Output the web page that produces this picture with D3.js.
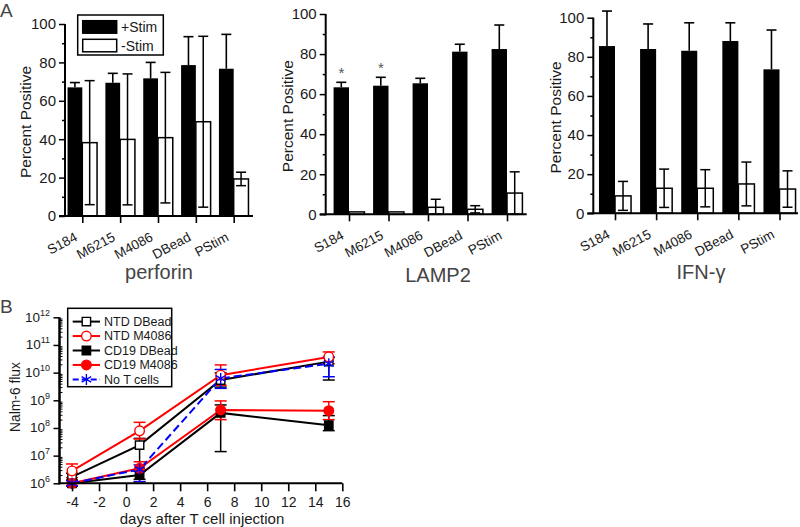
<!DOCTYPE html>
<html><head><meta charset="utf-8">
<script src="https://cdn.jsdelivr.net/npm/d3@7"></script>
<style>
body{margin:0;background:#fff}
svg{display:block}
text{font-family:"Liberation Sans",Arial,sans-serif}
</style>
</head><body>
<svg id="c" width="800" height="527"></svg>
<script>
// ---------- DATA ----------
const categories = ["S184", "M6215", "M4086", "DBead", "PStim"];
const seriesNames = ["+Stim", "-Stim"];
const panelTitles = ["perforin", "LAMP2", "IFN-\u03b3"];
const yTicksA = [0, 20, 40, 60, 80, 100];

const perforinStim = [67.0, 69.4, 71.7, 78.6, 76.7];
const perforinStimErr = [2.5, 4.9, 8.3, 14.8, 17.9];
const perforinNoStim = [38.2, 39.9, 40.8, 49.1, 19.3];
const perforinNoStimErr = [32.3, 34.1, 34.0, 44.5, 3.5];

const lampStim = [63.4, 64.2, 65.4, 81.2, 82.5];
const lampStimErr = [2.5, 4.2, 2.5, 3.7, 12.0];
const lampNoStim = [1.2, 1.2, 3.5, 2.5, 10.6];
const lampNoStimErr = [0, 0, 4.0, 1.8, 10.6];
const lampStars = ["S184", "M6215"];

const ifngStim = [85.5, 84.0, 83.1, 88.1, 73.6];
const ifngStimErr = [17.9, 12.8, 14.3, 9.3, 20.1];
const ifngNoStim = [8.9, 12.8, 12.8, 15.0, 12.4];
const ifngNoStimErr = [7.4, 9.8, 9.5, 11.2, 9.3];

const days = [-4, 1, 7, 15];
const xTicksB = [-4, -2, 0, 2, 4, 6, 8, 10, 12, 14, 16];
const yTicksB = [1e6, 1e7, 1e8, 1e9, 1e10, 1e11, 1e12];
const fluxNames = ["NTD DBead", "NTD M4086", "CD19 DBead", "CD19 M4086", "No T cells"];
const ntdDBead = [1.7e6, 2.4e7, 5.4e9, 2.5e10];
const ntdDBeadHi = [2.3e6, 4.2e7, 9.8e9, 3.5e10];
const ntdDBeadLo = [1.3e6, 3.0e6, 3.0e9, 5.4e9];
const ntdM4086 = [2.8e6, 7.9e7, 8.1e9, 3.7e10];
const ntdM4086Hi = [5.0e6, 1.6e8, 1.9e10, 5.6e10];
const ntdM4086Lo = [1.6e6, 4.0e7, 3.5e9, 2.1e10];
const cd19DBead = [1.0e6, 2.0e6, 3.5e8, 1.26e8];
const cd19DBeadHi = [1.26e6, 2.7e6, 6.8e8, 2.8e8];
const cd19DBeadLo = [8.0e5, 1.4e6, 1.4e7, 8.0e7];
const cd19M4086 = [1.0e6, 3.5e6, 4.5e8, 4.2e8];
const cd19M4086Hi = [1.26e6, 6.0e6, 9.5e8, 8.9e8];
const cd19M4086Lo = [8.0e5, 1.15e6, 2.0e8, 2.0e8];
const noTCells = [1.0e6, 3.2e6, 6.2e9, 2.1e10];
const noTCellsHi = [1.26e6, 4.6e6, 1.3e10, 3.7e10];
const noTCellsLo = [8.0e5, 1.15e6, 2.7e9, 7.1e9];

// ---------- DRAW ----------
const svg = d3.select("#c");
svg.append("rect").attr("width", 800).attr("height", 527).attr("fill", "#fff");
const TXT = "#1a1a1a", GRAY = "#444";

svg.append("text").attr("x", 0).attr("y", 17).attr("font-size", 19).attr("fill", GRAY).text("A");
svg.append("text").attr("x", 0).attr("y", 313).attr("font-size", 19).attr("fill", GRAY).text("B");

const panelsA = [
  {title: panelTitles[0], stim: perforinStim, stimErr: perforinStimErr, no: perforinNoStim, noErr: perforinNoStimErr, stars: [],
   L: 65, R: 253, t0: 82.3, t1: 233.7, y0: 216, y100: 24, ylabX: 31, titleX: 159, titleY: 279, legend: true},
  {title: panelTitles[1], stim: lampStim, stimErr: lampStimErr, no: lampNoStim, noErr: lampNoStimErr, stars: lampStars,
   L: 325.7, R: 526.7, t0: 349, t1: 507, y0: 214.3, y100: 14, ylabX: 293, titleX: 438, titleY: 282, legend: false},
  {title: panelTitles[2], stim: ifngStim, stimErr: ifngStimErr, no: ifngNoStim, noErr: ifngNoStimErr, stars: [],
   L: 593.3, R: 798, t0: 615, t1: 779.5, y0: 213.3, y100: 17.7, ylabX: 561, titleX: 701, titleY: 279, legend: false}
];

panelsA.forEach(p => {
  const g = svg.append("g");
  const x = d3.scalePoint().domain(categories).range([p.t0, p.t1]);
  const y = d3.scaleLinear().domain([0, 100]).range([p.y0, p.y100]);
  const bw = x.step() * 0.39;
  const cap = 5;

  categories.forEach((c, i) => {
    const cx = x(c);
    g.append("rect").attr("x", cx - bw).attr("y", y(p.stim[i])).attr("width", bw)
      .attr("height", y(0) - y(p.stim[i])).attr("fill", "#000");
    g.append("rect").attr("x", cx).attr("y", y(p.no[i])).attr("width", bw)
      .attr("height", y(0) - y(p.no[i])).attr("fill", "#fff").attr("stroke", "#000").attr("stroke-width", 1.5);
    const sx = cx - bw / 2, top = y(p.stim[i] + p.stimErr[i]);
    g.append("line").attr("x1", sx).attr("x2", sx).attr("y1", y(p.stim[i])).attr("y2", top).attr("stroke", "#000").attr("stroke-width", 1.6);
    g.append("line").attr("x1", sx - cap).attr("x2", sx + cap).attr("y1", top).attr("y2", top).attr("stroke", "#000").attr("stroke-width", 1.6);
    if (p.noErr[i] > 0) {
      const nx = cx + bw / 2, hi = y(p.no[i] + p.noErr[i]), lo = y(Math.max(0, p.no[i] - p.noErr[i]));
      g.append("line").attr("x1", nx).attr("x2", nx).attr("y1", lo).attr("y2", hi).attr("stroke", "#000").attr("stroke-width", 1.5);
      [hi, lo].forEach(yy => g.append("line").attr("x1", nx - cap).attr("x2", nx + cap).attr("y1", yy).attr("y2", yy).attr("stroke", "#000").attr("stroke-width", 1.5));
    }
    if (p.stars.includes(c)) {
      g.append("text").attr("x", sx).attr("y", top - 4).attr("text-anchor", "middle")
        .attr("font-size", 15).attr("fill", "#555").text("*");
    }
  });

  const ya = g.append("g").attr("transform", `translate(${p.L},0)`)
    .call(d3.axisLeft(y).tickValues(yTicksA).tickSize(6).tickPadding(3));
  ya.select(".domain").remove();
  ya.selectAll(".tick line").attr("stroke", "#000").attr("stroke-width", 1.5);
  ya.selectAll(".tick text").attr("font-size", 15).attr("fill", TXT).attr("font-family", "Liberation Sans, Arial, sans-serif");
  const ym = g.append("g").attr("transform", `translate(${p.L},0)`)
    .call(d3.axisLeft(y).tickValues([10, 30, 50, 70, 90]).tickSize(3).tickFormat(""));
  ym.select(".domain").remove();
  ym.selectAll(".tick line").attr("stroke", "#000").attr("stroke-width", 1.5);
  g.append("line").attr("x1", p.L).attr("x2", p.L).attr("y1", p.y0 + 1).attr("y2", p.y100).attr("stroke", "#000").attr("stroke-width", 2);

  const xa = g.append("g").attr("transform", `translate(0,${p.y0})`)
    .call(d3.axisBottom(x).tickSize(7).tickFormat(""));
  xa.select(".domain").remove();
  xa.selectAll(".tick line").attr("stroke", "#000").attr("stroke-width", 1.6);
  g.append("line").attr("x1", p.L - 6).attr("x2", p.R).attr("y1", p.y0).attr("y2", p.y0).attr("stroke", "#000").attr("stroke-width", 2);
  categories.forEach(c => {
    const tx = x(c) - 4, ty = p.y0 + 24;
    g.append("text").attr("x", tx).attr("y", ty).attr("text-anchor", "end")
      .attr("transform", `rotate(-28,${tx},${ty})`).attr("font-size", 13.5).attr("fill", TXT).text(c);
  });

  g.append("text").attr("transform", `translate(${p.ylabX},${(p.y0 + p.y100) / 2 + 2}) rotate(-90)`)
    .attr("text-anchor", "middle").attr("font-size", 15.5).attr("fill", TXT).text("Percent Positive");
  g.append("text").attr("x", p.titleX).attr("y", p.titleY).attr("text-anchor", "middle")
    .attr("font-size", 20).attr("fill", GRAY).text(p.title);

  if (p.legend) {
    const lg = g.append("g");
    lg.append("rect").attr("x", 77.7).attr("y", 15).attr("width", 85.6).attr("height", 40)
      .attr("fill", "#fff").attr("stroke", "#000").attr("stroke-width", 1.5);
    seriesNames.forEach((s, i) => {
      const yy = 20.7 + i * 18.6;
      lg.append("rect").attr("x", 82.7).attr("y", yy).attr("width", 34).attr("height", 12.5)
        .attr("fill", i === 0 ? "#000" : "#fff").attr("stroke", "#000").attr("stroke-width", 1.5);
      lg.append("text").attr("x", 121).attr("y", yy + 11.5).attr("font-size", 14).attr("fill", TXT).text(s);
    });
  }
});

// ---------- PANEL B ----------
const gB = svg.append("g");
const xB = d3.scaleLinear().domain([-5, 16]).range([58.5, 342.3]);
const yB = d3.scaleLog().domain([1e6, 1e12]).range([483.3, 317.3]);

const fluxSeries = [
  {name: fluxNames[0], v: ntdDBead, hi: ntdDBeadHi, lo: ntdDBeadLo, color: "#000", shape: "square", fill: "#fff", dash: null},
  {name: fluxNames[1], v: ntdM4086, hi: ntdM4086Hi, lo: ntdM4086Lo, color: "#f00", shape: "circle", fill: "#fff", dash: null},
  {name: fluxNames[2], v: cd19DBead, hi: cd19DBeadHi, lo: cd19DBeadLo, color: "#000", shape: "square", fill: "#000", dash: null},
  {name: fluxNames[3], v: cd19M4086, hi: cd19M4086Hi, lo: cd19M4086Lo, color: "#f00", shape: "circle", fill: "#f00", dash: null},
  {name: fluxNames[4], v: noTCells, hi: noTCellsHi, lo: noTCellsLo, color: "#00f", shape: "star", fill: "none", dash: "8,4"}
];

function marker(sel, s, cx, cy) {
  if (s.shape === "square") {
    sel.append("path").attr("d", d3.symbol().type(d3.symbolSquare).size(70)())
      .attr("transform", `translate(${cx},${cy})`).attr("fill", s.fill).attr("stroke", s.color).attr("stroke-width", 1.4);
  } else if (s.shape === "circle") {
    sel.append("path").attr("d", d3.symbol().type(d3.symbolCircle).size(72)())
      .attr("transform", `translate(${cx},${cy})`).attr("fill", s.fill).attr("stroke", s.color).attr("stroke-width", 1.4);
  } else {
    const r = 5.5, p = d3.path();
    [90, 30, -30].forEach(a => {
      const t = a * Math.PI / 180;
      p.moveTo(cx - r * Math.cos(t), cy - r * Math.sin(t));
      p.lineTo(cx + r * Math.cos(t), cy + r * Math.sin(t));
    });
    sel.append("path").attr("d", p.toString()).attr("fill", "none").attr("stroke", s.color).attr("stroke-width", 1.4);
  }
}

const line = d3.line().x(d => xB(d[0])).y(d => yB(d[1]));
fluxSeries.forEach(s => {
  const pts = days.map((d, i) => [d, s.v[i]]);
  gB.append("path").attr("d", line(pts)).attr("fill", "none").attr("stroke", s.color)
    .attr("stroke-width", 2).attr("stroke-dasharray", s.dash);
  days.forEach((d, i) => {
    const cx = xB(d), h = yB(s.hi[i]), l = yB(s.lo[i]);
    gB.append("line").attr("x1", cx).attr("x2", cx).attr("y1", l).attr("y2", h).attr("stroke", s.color).attr("stroke-width", 1.5);
    [h, l].forEach(yy => gB.append("line").attr("x1", cx - 6).attr("x2", cx + 6).attr("y1", yy).attr("y2", yy).attr("stroke", s.color).attr("stroke-width", 1.5));
  });
});
fluxSeries.forEach(s => days.forEach((d, i) => marker(gB, s, xB(d), yB(s.v[i]))));

const xaB = gB.append("g").attr("transform", "translate(0,483.3)")
  .call(d3.axisBottom(xB).tickValues(xTicksB).tickSize(8).tickPadding(6).tickFormat(d => String(d)));
xaB.select(".domain").remove();
xaB.selectAll(".tick line").attr("stroke", "#000").attr("stroke-width", 1.6);
xaB.selectAll(".tick text").attr("font-size", 14).attr("fill", TXT).attr("font-family", "Liberation Sans, Arial, sans-serif");
gB.append("line").attr("x1", 58.5).attr("x2", 342.3).attr("y1", 483.3).attr("y2", 483.3).attr("stroke", "#000").attr("stroke-width", 2);

const yaB = gB.append("g").attr("transform", "translate(59.5,0)")
  .call(d3.axisLeft(yB).tickValues(yTicksB).tickSize(6).tickFormat(""));
yaB.select(".domain").remove();
yaB.selectAll(".tick line").attr("stroke", "#000").attr("stroke-width", 1.5);
const minorB = [];
for (let k = 6; k < 12; k++) for (let m = 2; m <= 9; m++) minorB.push(m * Math.pow(10, k));
const ymB = gB.append("g").attr("transform", "translate(59.5,0)")
  .call(d3.axisRight(yB).tickValues(minorB).tickSize(3).tickFormat(""));
ymB.select(".domain").remove();
ymB.selectAll(".tick line").attr("stroke", "#000").attr("stroke-width", 1);
gB.append("line").attr("x1", 59.5).attr("x2", 59.5).attr("y1", 484.3).attr("y2", 317.3).attr("stroke", "#000").attr("stroke-width", 2.5);

yTicksB.forEach(v => {
  const t = gB.append("text").attr("x", 50).attr("y", yB(v) + 4.5).attr("text-anchor", "end")
    .attr("font-size", 13.5).attr("fill", TXT);
  t.append("tspan").text("10");
  t.append("tspan").attr("dy", -6).attr("font-size", 9).text(String(Math.round(Math.log10(v))));
});

gB.append("text").attr("x", 202).attr("y", 524).attr("text-anchor", "middle").attr("font-size", 15)
  .attr("fill", TXT).text("days after T cell injection");
gB.append("text").attr("transform", "translate(19.5,397) rotate(-90)").attr("text-anchor", "middle")
  .attr("font-size", 13.8).attr("fill", TXT).text("Nalm-6 flux");

const lgB = gB.append("g");
lgB.append("rect").attr("x", 67.7).attr("y", 308.3).attr("width", 104).attr("height", 78.4)
  .attr("fill", "#fff").attr("stroke", "#000").attr("stroke-width", 1.5);
fluxSeries.forEach((s, i) => {
  const yy = 321.6 + i * 14.45;
  lgB.append("line").attr("x1", 72.7).attr("x2", 100).attr("y1", yy).attr("y2", yy)
    .attr("stroke", s.color).attr("stroke-width", 2).attr("stroke-dasharray", s.dash ? "6,3" : null);
  marker(lgB, s, 86.4, yy);
  lgB.append("text").attr("x", 104).attr("y", yy + 4.3).attr("font-size", 12.5).attr("fill", TXT).text(s.name);
});
</script>
</body></html>
